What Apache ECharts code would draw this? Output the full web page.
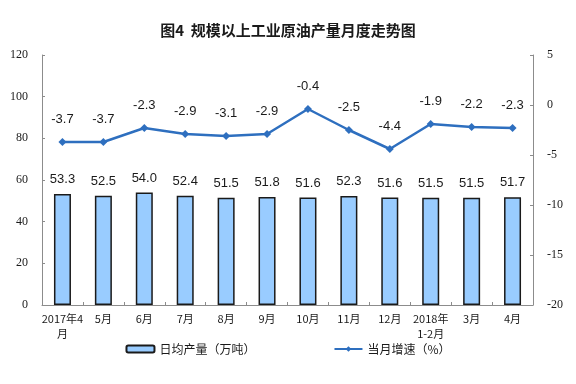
<!DOCTYPE html>
<html><head><meta charset="utf-8">
<script src="https://cdn.jsdelivr.net/npm/echarts@6/dist/echarts.min.js"></script>
<style>html,body{margin:0;padding:0;background:#fff}#c{width:576px;height:384px}</style>
</head><body><div id="c"></div>
<script>
var categories = ['2017年4\n月','5月','6月','7月','8月','9月','10月','11月','12月','2018年\n1-2月','3月','4月'];
var output = [53.3,52.5,54.0,52.4,51.5,51.8,51.6,52.3,51.6,51.5,51.5,51.7];
var growth = [-3.7,-3.7,-2.3,-2.9,-3.1,-2.9,-0.4,-2.5,-4.4,-1.9,-2.2,-2.3];
var leftTicks = [0,20,40,60,80,100,120];
var rightTicks = [-20,-15,-10,-5,0,5];

var chart = echarts.init(document.getElementById('c'));
var axisLine = {show:true, lineStyle:{color:'#8c8c8c', width:1}};
var serif = '"Liberation Serif", "DejaVu Serif", serif';
chart.setOption({
  animation:false,
  title:{text:'图4  规模以上工业原油产量月度走势图', left:'center', top:18,
    textStyle:{fontFamily:'Noto Sans CJK SC', fontSize:15, fontWeight:'bold', color:'#1a1a1a'}},
  legend:{bottom:24, left:'center', itemGap:78, itemWidth:28, itemHeight:7,
    textStyle:{fontFamily:'Noto Sans CJK SC', fontSize:12, color:'#1a1a1a'},
    data:[{name:'日均产量（万吨）'},{name:'当月增速（%）'}]},
  grid:{left:42, right:43, top:55, bottom:79, containLabel:false},
  xAxis:{type:'category', data:categories,
    axisLine:axisLine,
    axisTick:{show:true, inside:true, length:3, alignWithLabel:false, lineStyle:{color:'#8c8c8c'}},
    axisLabel:{interval:0, fontFamily:'Noto Sans CJK SC', fontSize:11, color:'#1a1a1a', margin:6, lineHeight:15}},
  yAxis:[
    {type:'value', min:0, max:120, interval:20, position:'left',
      axisLine:axisLine, axisTick:{show:true, inside:true, length:3, lineStyle:{color:'#8c8c8c'}},
      splitLine:{show:false},
      axisLabel:{fontFamily:serif, fontSize:12, color:'#1a1a1a', margin:14}},
    {type:'value', min:-20, max:5, interval:5, position:'right',
      axisLine:axisLine, axisTick:{show:true, inside:true, length:3, lineStyle:{color:'#8c8c8c'}},
      splitLine:{show:false},
      axisLabel:{fontFamily:serif, fontSize:12, color:'#1a1a1a', margin:14}}
  ],
  series:[
    {name:'日均产量（万吨）', type:'bar', yAxisIndex:0, data:output, barWidth:17,
      itemStyle:{color:'#99ccff', borderColor:'#1a1a1a', borderWidth:1.5},
      label:{show:true, position:'top', distance:8, formatter:function(p){return p.value.toFixed(1);},
        fontFamily:'Liberation Sans', fontSize:13, color:'#1a1a1a'}},
    {name:'当月增速（%）', type:'line', yAxisIndex:1, data:growth,
      symbol:'diamond', symbolSize:8,
      lineStyle:{color:'#2e6fbf', width:2.5}, itemStyle:{color:'#2e6fbf'},
      label:{show:true, position:'top', distance:12, formatter:function(p){return p.value.toFixed(1);},
        fontFamily:'Liberation Sans', fontSize:13, color:'#1a1a1a'}}
  ]
});
</script></body></html>
